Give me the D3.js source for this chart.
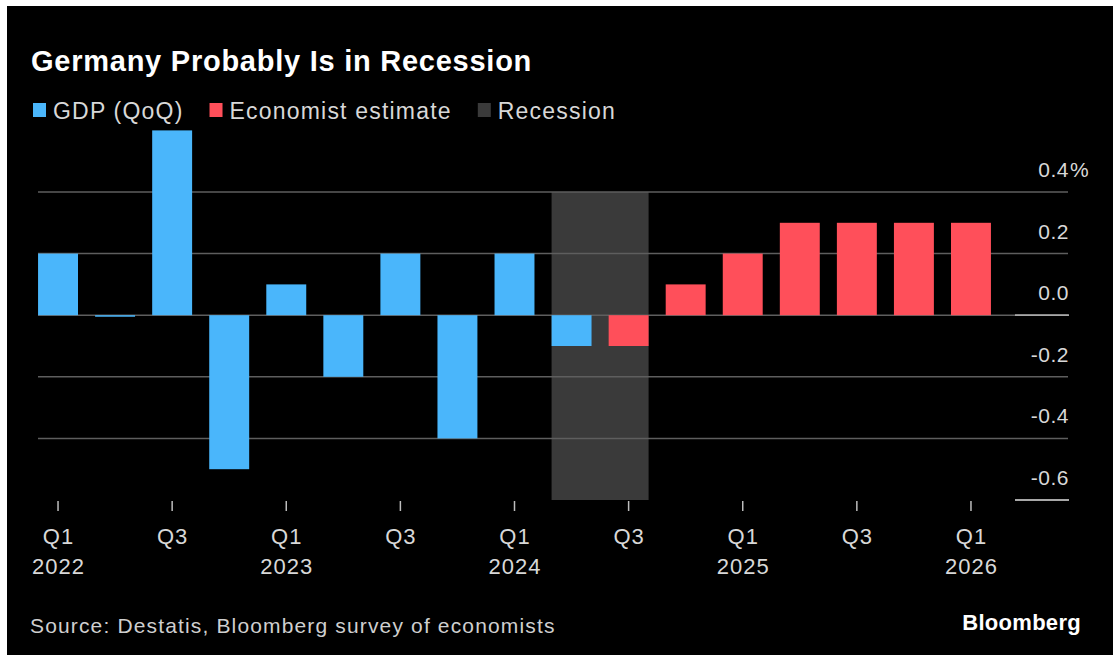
<!DOCTYPE html>
<html>
<head>
<meta charset="utf-8">
<script src="https://cdn.jsdelivr.net/npm/d3@7"></script>
<style>
  html, body { margin: 0; padding: 0; background: #fff; }
  svg { display: block; }
  text { font-family: "Liberation Sans", Arial, sans-serif; }
</style>
</head>
<body>
<svg id="chart" width="1118" height="655"></svg>
<script>
// ---- data ----
const quarters = ["Q1 2022","Q2 2022","Q3 2022","Q4 2022",
                  "Q1 2023","Q2 2023","Q3 2023","Q4 2023",
                  "Q1 2024","Q2 2024","Q3 2024","Q4 2024",
                  "Q1 2025","Q2 2025","Q3 2025","Q4 2025","Q1 2026"];
const gdpValues = [0.2, -0.005, 0.6, -0.5, 0.1, -0.2, 0.2, -0.4, 0.2, -0.1,
                   null, null, null, null, null, null, null];
const estimateValues = [null, null, null, null, null, null, null, null, null, null,
                        -0.1, 0.1, 0.2, 0.3, 0.3, 0.3, 0.3];
const recession = ["Q2 2024", "Q3 2024"];
const yTicks = [0.4, 0.2, 0.0, -0.2, -0.4, -0.6];
const xTickQuarters = ["Q1 2022","Q3 2022","Q1 2023","Q3 2023","Q1 2024","Q3 2024","Q1 2025","Q3 2025","Q1 2026"];
const legendItems = [
  {label: "GDP (QoQ)", color: "#4ab6fb"},
  {label: "Economist estimate", color: "#ff4f5a"},
  {label: "Recession", color: "#3a3a3a"}
];
const title = "Germany Probably Is in Recession";
const source = "Source: Destatis, Bloomberg survey of economists";

// ---- setup ----
const svg = d3.select("#chart");
svg.append("rect").attr("x", 7).attr("y", 6).attr("width", 1106).attr("height", 649).attr("fill", "#000");

const x = d3.scaleBand().domain(quarters).range([29.5, 999.5]).paddingInner(0.3).paddingOuter(0.15);
const y = d3.scaleLinear().domain([-0.6, 0.4]).range([500, 192]);
const gridLeft = 38, gridRight = 1068, axisSegLeft = 1015;

// recession shading
svg.append("rect")
  .attr("x", x(recession[0]))
  .attr("y", y(0.4))
  .attr("width", x(recession[1]) + x.bandwidth() - x(recession[0]))
  .attr("height", y(-0.6) - y(0.4))
  .attr("fill", "#3a3a3a");

// gridlines
svg.append("g").selectAll("line").data(yTicks.filter(d => d > -0.6)).join("line")
  .attr("x1", gridLeft).attr("x2", gridRight)
  .attr("y1", d => y(d)).attr("y2", d => y(d))
  .attr("stroke", "#5e5e5e").attr("stroke-width", 1.5);
// bright segments on the right for zero and bottom
svg.append("g").selectAll("line").data([0, -0.6]).join("line")
  .attr("x1", axisSegLeft).attr("x2", gridRight + 1)
  .attr("y1", d => y(d)).attr("y2", d => y(d))
  .attr("stroke", "#a8a8a8").attr("stroke-width", 1.8);

// y labels
const yl = svg.append("g").attr("fill", "#d8d8d8").attr("font-size", 21).attr("letter-spacing", 0.5);
yTicks.forEach(d => {
  yl.append("text")
    .attr("x", gridRight + 1).attr("y", y(d) - 15)
    .attr("text-anchor", "end")
    .text(d3.format(".1f")(d).replace("−", "-"));
  if (d === 0.4) {
    yl.append("text").attr("x", gridRight + 2).attr("y", y(d) - 15).text("%");
  }
});

// bars
const gdpData = quarters.map((q, i) => ({q, v: gdpValues[i]})).filter(d => d.v !== null);
const estData = quarters.map((q, i) => ({q, v: estimateValues[i]})).filter(d => d.v !== null);
svg.append("g").selectAll("rect").data(gdpData).join("rect")
  .attr("x", d => x(d.q)).attr("width", x.bandwidth())
  .attr("y", d => y(Math.max(0, d.v)))
  .attr("height", d => Math.max(1.5, Math.abs(y(d.v) - y(0))))
  .attr("fill", legendItems[0].color);
svg.append("g").selectAll("rect").data(estData).join("rect")
  .attr("x", d => x(d.q)).attr("width", x.bandwidth())
  .attr("y", d => y(Math.max(0, d.v)))
  .attr("height", d => Math.abs(y(d.v) - y(0)))
  .attr("fill", legendItems[1].color);

// x axis ticks & labels
const xa = svg.append("g");
xTickQuarters.forEach(q => {
  const cx = x(q) + x.bandwidth() / 2;
  xa.append("line").attr("x1", cx).attr("x2", cx).attr("y1", 501).attr("y2", 511)
    .attr("stroke", "#bdbdbd").attr("stroke-width", 1.5);
  const [qq, yr] = q.split(" ");
  xa.append("text").attr("x", cx + 0.5).attr("y", 544).attr("text-anchor", "middle")
    .attr("fill", "#d8d8d8").attr("font-size", 22).attr("letter-spacing", 1).text(qq);
  if (qq === "Q1") {
    xa.append("text").attr("x", cx + 0.5).attr("y", 574).attr("text-anchor", "middle")
      .attr("fill", "#d8d8d8").attr("font-size", 22).attr("letter-spacing", 1).text(yr);
  }
});

// title
svg.append("text").attr("x", 31).attr("y", 71)
  .attr("fill", "#fff").attr("font-weight", "bold").attr("font-size", 29)
  .attr("letter-spacing", 0.75).text(title);

// legend
let lx = 33;
const lg = svg.append("g");
legendItems.forEach(item => {
  lg.append("rect").attr("x", lx).attr("y", 103).attr("width", 13).attr("height", 14).attr("fill", item.color);
  const t = lg.append("text").attr("x", lx + 20).attr("y", 118.5)
    .attr("fill", "#d8d8d8").attr("font-size", 23).attr("letter-spacing", 1.2).text(item.label);
  lx += 20 + t.node().getComputedTextLength() + 26;
});

// footer
svg.append("text").attr("x", 30).attr("y", 633).attr("fill", "#cfcfcf")
  .attr("font-size", 21).attr("letter-spacing", 1.15).text(source);
svg.append("text").attr("x", 1081).attr("y", 630).attr("text-anchor", "end")
  .attr("fill", "#fff").attr("font-weight", "bold").attr("font-size", 22)
  .attr("letter-spacing", 0.3).text("Bloomberg");
</script>
</body>
</html>
